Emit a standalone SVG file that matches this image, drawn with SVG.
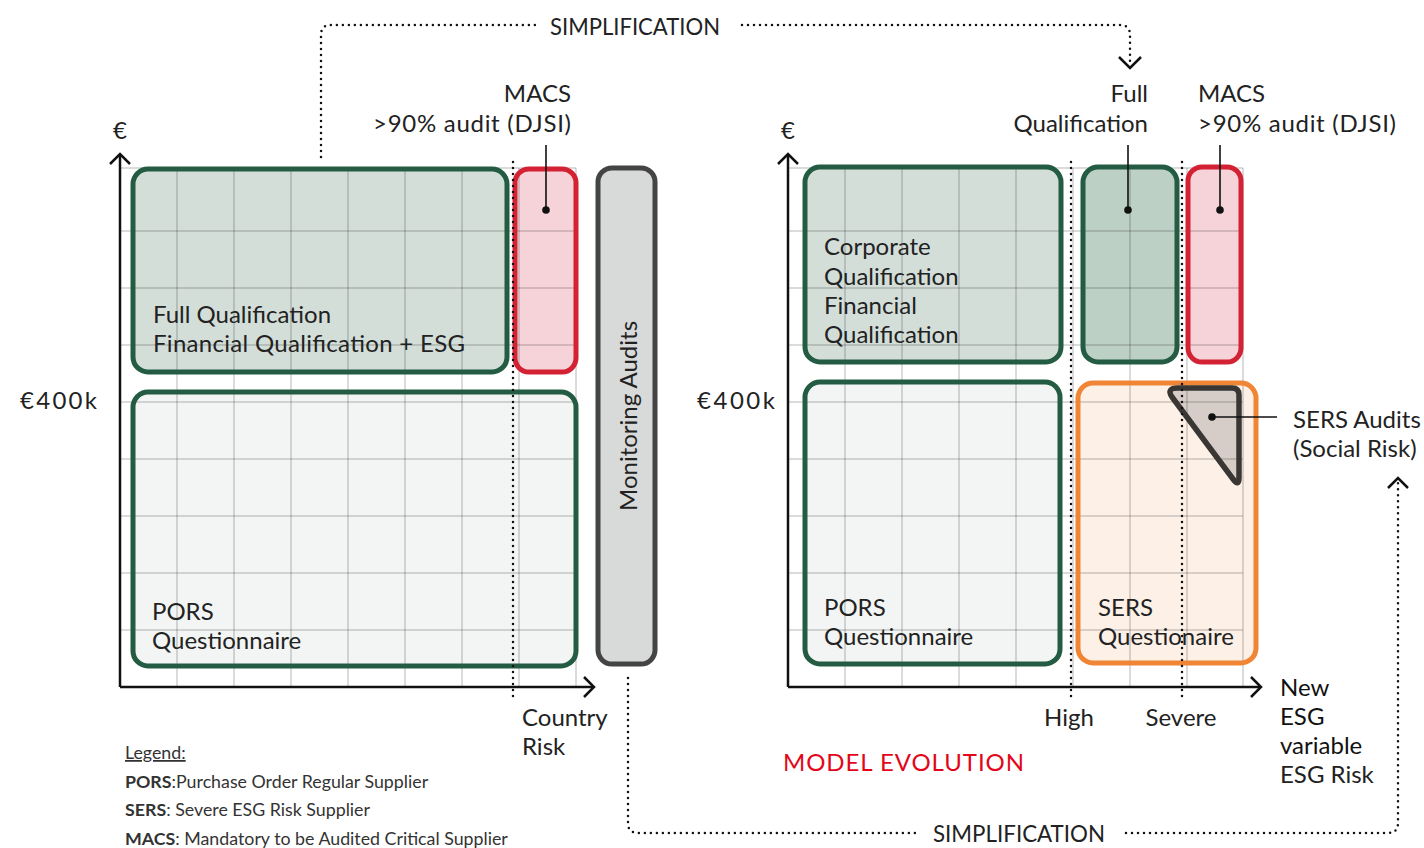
<svg xmlns="http://www.w3.org/2000/svg" width="1424" height="848" viewBox="0 0 1424 848">
<style>
text{font-family:Lato,"Liberation Sans",sans-serif;font-size:24px;fill:#222}
.lg{font-size:17.8px;fill:#333}
.b{font-weight:bold}
.dot{fill:none;stroke:#111;stroke-width:2.5;stroke-linecap:round;stroke-dasharray:0 6}
.ax{fill:none;stroke:#111;stroke-width:2.5}
.chev{fill:none;stroke:#111;stroke-width:2.5;stroke-linejoin:miter}
.grid{stroke:#000;stroke-opacity:0.14;stroke-width:2;fill:none}
.lead{stroke:#111;stroke-width:1.6}
.gs{stroke:#235c42;stroke-width:5}
.rs{stroke:#d42235;stroke-width:5}
.os{stroke:#f08535;stroke-width:5}
</style>
<defs>
<path id="tri" d="M1178,388 L1232,388 Q1239,388 1239,395 L1239,478 Q1239,487 1233,479 L1172,397 Q1166,388 1178,388 Z"/>
</defs>
<rect width="1424" height="848" fill="#fff"/>

<!-- box fills (under grid) -->
<g id="fills">
<rect x="133" y="169" width="374" height="203" rx="15" fill="#d4ded9"/>
<rect x="515" y="169" width="61" height="203" rx="14" fill="#f6d3d8"/>
<rect x="133" y="392" width="443" height="274" rx="15" fill="#f2f5f3"/>
<rect x="805" y="167" width="256" height="195" rx="15" fill="#d4ded9"/>
<rect x="1083" y="167" width="94" height="195" rx="15" fill="#bdd0c6"/>
<rect x="1188" y="167" width="53" height="195" rx="14" fill="#f6d3d8"/>
<rect x="805" y="382" width="255" height="282" rx="15" fill="#f2f5f3"/>
<rect x="1078" y="383" width="178" height="280" rx="15" fill="#fcf0e7"/>
<use href="#tri" fill="#d6cdc8"/>
</g>

<!-- grids -->
<g id="grid-left" class="grid">
<path d="M120,168H576M120,231H576M120,288H576M120,345H576M120,402H576M120,459H576M120,516H576M120,573H576M120,630H576"/>
<path d="M177,168V687M234,168V687M291,168V687M348,168V687M405,168V687M462,168V687M519,168V687M576,168V687"/>
</g>
<g id="grid-right" class="grid">
<path d="M788,168H1243M788,231H1243M788,288H1243M788,345H1243M788,402H1243M788,459H1243M788,516H1243M788,573H1243M788,630H1243"/>
<path d="M845,168V687M902,168V687M959,168V687M1016,168V687M1073,168V687M1130,168V687M1187,168V687M1243,168V687"/>
</g>

<!-- left chart nodes -->
<g id="node-full-qualification">
<rect x="133" y="169" width="374" height="203" rx="15" fill="none" class="gs"/>
<text x="153" y="323">Full Qualification</text>
<text x="153" y="352" textLength="312">Financial Qualification + ESG</text>
</g>
<g id="node-macs-left">
<rect x="515" y="169" width="61" height="203" rx="14" fill="none" class="rs"/>
</g>
<g id="node-pors-left">
<rect x="133" y="392" width="443" height="274" rx="15" fill="none" class="gs"/>
<text x="152" y="620">PORS</text>
<text x="152" y="649">Questionnaire</text>
</g>
<g id="node-monitoring-audits">
<rect x="598" y="168" width="57" height="496" rx="14" fill="#d8d9d9" stroke="#444" stroke-width="5"/>
<text transform="translate(637,416) rotate(-90)" text-anchor="middle">Monitoring Audits</text>
</g>

<!-- right chart nodes -->
<g id="node-corporate">
<rect x="805" y="167" width="256" height="195" rx="15" fill="none" class="gs"/>
<text x="824" y="255">Corporate</text>
<text x="824" y="285">Qualification</text>
<text x="824" y="314">Financial</text>
<text x="824" y="343">Qualification</text>
</g>
<g id="node-full-qualification-right">
<rect x="1083" y="167" width="94" height="195" rx="15" fill="none" class="gs"/>
</g>
<g id="node-macs-right">
<rect x="1188" y="167" width="53" height="195" rx="14" fill="none" class="rs"/>
</g>
<g id="node-pors-right">
<rect x="805" y="382" width="255" height="282" rx="15" fill="none" class="gs"/>
<text x="824" y="616">PORS</text>
<text x="824" y="645">Questionnaire</text>
</g>
<g id="node-sers">
<rect x="1078" y="383" width="178" height="280" rx="15" fill="none" class="os"/>
<text x="1098" y="616">SERS</text>
<text x="1098" y="645">Questionaire</text>
</g>
<g id="node-sers-audits">
<use href="#tri" fill="none" stroke="#3a3633" stroke-width="5.5" stroke-linejoin="round"/>
</g>

<!-- axes -->
<g id="axes">
<path class="ax" d="M120,687V154M120,687H594"/>
<path class="chev" d="M110,164L120,154L130,164M584,677L594,687L584,697"/>
<path class="ax" d="M788,687V154M788,687H1261"/>
<path class="chev" d="M778,164L788,154L798,164M1251,677L1261,687L1251,697"/>
</g>

<!-- connectors -->
<g id="connectors">
<path class="dot" d="M513,162V698"/>
<path class="dot" d="M1071,162V698"/>
<path class="dot" d="M1182,162V698"/>
<path class="dot" d="M321,157V35Q321,25 331,25H536"/>
<path class="dot" d="M742,25H1120Q1130,25 1130,35V64"/>
<path class="chev" d="M1119,57L1130,68L1141,57"/>
<path class="dot" d="M628,678V823Q628,833 638,833H918"/>
<path class="dot" d="M1126,833H1388Q1398,833 1398,823V482"/>
<path class="chev" d="M1388,488L1398,478L1408,488"/>
<path class="lead" d="M546,145V210"/><circle cx="546" cy="210" r="3.8" fill="#111"/>
<path class="lead" d="M1128,145V210"/><circle cx="1128" cy="210" r="3.8" fill="#111"/>
<path class="lead" d="M1220,145V210"/><circle cx="1220" cy="210" r="3.8" fill="#111"/>
<path class="lead" d="M1212,417H1277"/><circle cx="1212" cy="417" r="3.8" fill="#111"/>
</g>

<!-- labels -->
<g id="labels">
<text x="550" y="35" textLength="170" lengthAdjust="spacingAndGlyphs">SIMPLIFICATION</text>
<text x="933" y="842" textLength="172" lengthAdjust="spacingAndGlyphs">SIMPLIFICATION</text>
<text x="120" y="139" text-anchor="middle">€</text>
<text x="788" y="139" text-anchor="middle">€</text>
<text x="20" y="409" textLength="77">€400k</text>
<text x="697" y="409" textLength="78">€400k</text>
<text x="571" y="102" text-anchor="end">MACS</text>
<text x="373" y="132" textLength="198">&gt;90% audit (DJSI)</text>
<text x="1148" y="102" text-anchor="end">Full</text>
<text x="1148" y="132" text-anchor="end">Qualification</text>
<text x="1198" y="102">MACS</text>
<text x="1198" y="132" textLength="198">&gt;90% audit (DJSI)</text>
<text x="1293" y="428">SERS Audits</text>
<text x="1293" y="457">(Social Risk)</text>
<text x="522" y="726">Country</text>
<text x="522" y="755">Risk</text>
<text x="1069" y="726" text-anchor="middle">High</text>
<text x="1181" y="726" text-anchor="middle">Severe</text>
<text x="1280" y="696" style="fill:#111">New</text>
<text x="1280" y="725" style="fill:#111">ESG</text>
<text x="1280" y="754" style="fill:#111">variable</text>
<text x="1280" y="783">ESG Risk</text>
<text x="783" y="771" textLength="241" style="fill:#e3061b">MODEL EVOLUTION</text>
</g>

<!-- legend -->
<g id="legend">
<text class="lg" x="125" y="759" text-decoration="underline">Legend:</text>
<text class="lg" x="125" y="788"><tspan class="b">PORS</tspan>:Purchase Order Regular Supplier</text>
<text class="lg" x="125" y="816"><tspan class="b">SERS</tspan>: Severe ESG Risk Supplier</text>
<text class="lg" x="125" y="845"><tspan class="b">MACS</tspan>: Mandatory to be Audited Critical Supplier</text>
</g>
</svg>
